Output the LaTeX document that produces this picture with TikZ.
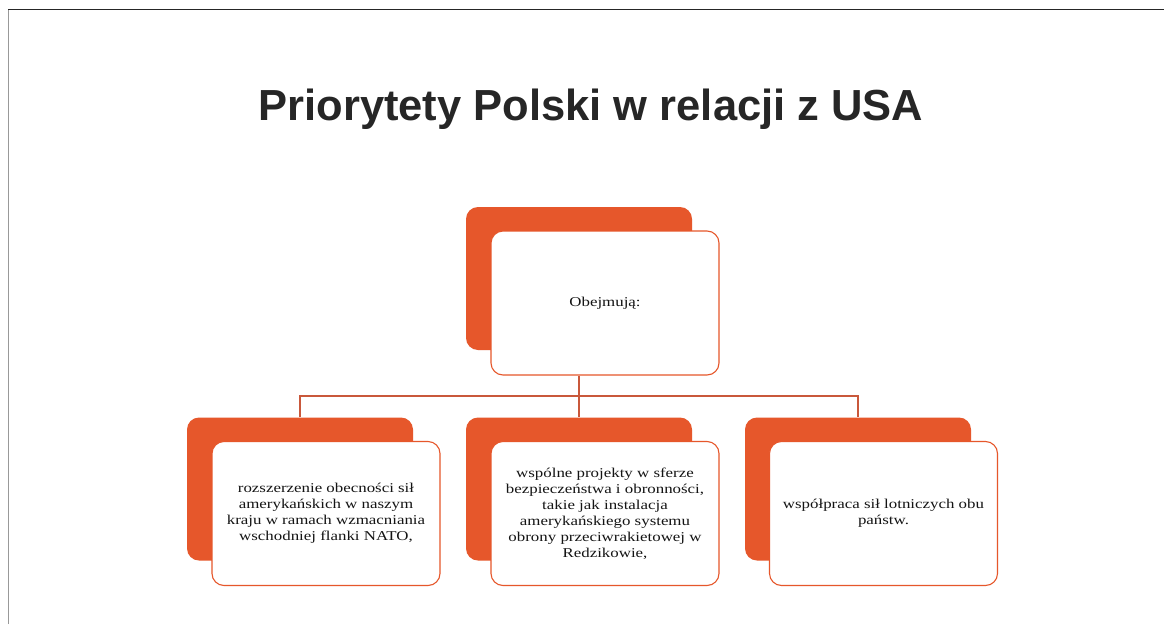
\documentclass[tikz,border=0pt]{standalone}
\usepackage{fontspec}
\setmainfont{Liberation Serif}
\newfontfamily\titlefont{Liberation Sans}
\newfontfamily\bodyfont{Liberation Serif}[FakeStretch=1.25]
\hyphenpenalty=10000
\exhyphenpenalty=10000
\definecolor{boxorange}{HTML}{E6572B}
\definecolor{connred}{HTML}{C9583B}
\definecolor{titlegray}{HTML}{262626}
\tikzset{
  backbox/.style={fill=boxorange, draw=none, rounded corners=12pt, minimum width=226pt, minimum height=143pt, inner sep=0pt},
  frontbox/.style={fill=white, draw=boxorange, line width=1.1pt, rounded corners=12pt, minimum width=228pt, minimum height=144pt, inner sep=0pt, align=flush center, text width=206pt, font=\bodyfont\fontsize{13.5}{16}\selectfont, text=black!92},
  conn/.style={draw=connred, line width=1.1pt},
}
\begin{document}
\begin{tikzpicture}[x=1pt,y=-1pt]
\useasboundingbox (0,0) rectangle (1164,624);
\fill[white] (0,0) rectangle (1164,624);
\coordinate (fa) at (8,624);
\coordinate (fb) at (8,9);
\coordinate (fc) at (1164,9);
\draw[gray!80, line width=1pt] (fa) -- (fb);
\draw[titlegray, line width=1pt] (fb) -- (fc);

\node[text=titlegray, font=\titlefont\bfseries\fontsize{43.5}{50}\selectfont, anchor=base] (title) at (591,120) {Priorytety Polski w relacji z USA};

\node[backbox] (topback) at (579,278.5) {};
\node[frontbox] (topfront) at (605,303) {Obejmują:};

\node[backbox] (leftback) at (300,489) {};
\node[frontbox] (leftfront) at (326,513.5) {rozszerzenie obecności sił amerykańskich w naszym kraju w ramach wzmacniania wschodniej flanki NATO,};

\node[backbox] (midback) at (579,489) {};
\node[frontbox] (midfront) at (605,513.5) {wspólne projekty w sferze bezpieczeństwa i obronności, takie jak instalacja amerykańskiego systemu obrony przeciwrakietowej w Redzikowie,};

\node[backbox] (rightback) at (858,489) {};
\node[frontbox] (rightfront) at (883.5,513.5) {współpraca sił lotniczych obu państw.};

\coordinate (hubtop) at (topback.center |- topfront.south);
\coordinate (hub) at (579,396);
\draw[conn] (hubtop) -- (hub);
\draw[conn] (leftback.north) |- (hub) -| (rightback.north);
\draw[conn] (hub) -- (midback.north);
\end{tikzpicture}
\end{document}
